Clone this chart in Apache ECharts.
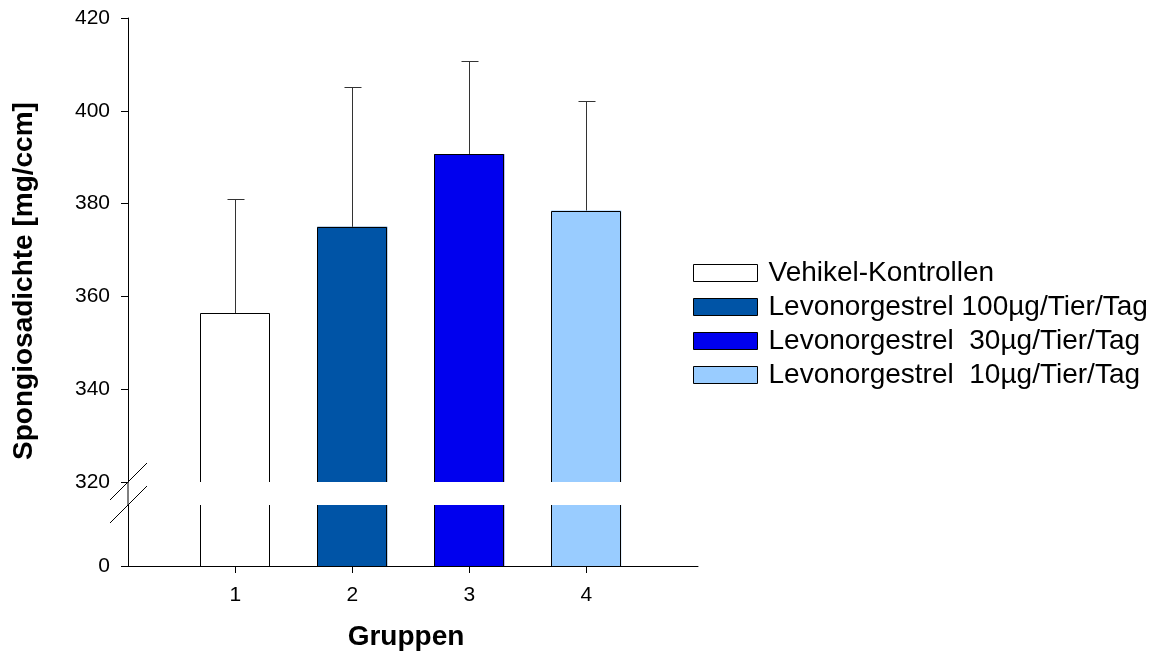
<!DOCTYPE html>
<html>
<head>
<meta charset="utf-8">
<script src="https://cdn.jsdelivr.net/npm/echarts@6/dist/echarts.min.js"></script>
<style>html,body{margin:0;padding:0;background:#fff;}#c{width:1163px;height:652px;}</style>
</head>
<body>
<div id="c"></div>
<script>
// ---- data ----
var groups = [1, 2, 3, 4];
var seriesNames = ['Vehikel-Kontrollen', 'Levonorgestrel 100µg/Tier/Tag', 'Levonorgestrel  30µg/Tier/Tag', 'Levonorgestrel  10µg/Tier/Tag'];
var means = [356.4, 375.0, 390.7, 378.5];
var upperErr = [381.0, 405.1, 410.7, 402.1];
var yTicksUpper = [320, 340, 360, 380, 400, 420];
var yTicksLower = [0];
var xTickLabels = [1, 2, 3, 4];

// ---- layout / style ----
var FONT = 'Liberation Sans, Arial, sans-serif';
var colors = ['#ffffff', '#0054a6', '#0000ee', '#99ccff'];
var GL = 128, GW = 570;
var UP_TOP = 18, UP_H = 464;
var LO_TOP = 505, LO_H = 62;
var UP_BOTTOM = UP_TOP + UP_H;
var UP_MIN = 320, UP_MAX = 420, LO_MIN = 0, LO_MAX = 233;
var HALF_W = 35;

var chart = echarts.init(document.getElementById('c'));
var series = [];
for (var i = 0; i < groups.length; i++) {
  var common = {
    type: 'bar', name: seriesNames[i], barWidth: HALF_W * 2, barGap: '-100%',
    itemStyle: { color: colors[i], borderWidth: 0 }, z: 2,
    clip: true, animation: false, emphasis: { disabled: true }, silent: true
  };
  series.push(Object.assign({}, common, { xAxisIndex: 0, yAxisIndex: 0, data: [[groups[i], means[i]]] }));
  series.push(Object.assign({}, common, { xAxisIndex: 1, yAxisIndex: 1, data: [[groups[i], means[i]]] }));
}
// bar outlines (open at the axis break)
function outline(axisMin, axisMax, closedTop) {
  return function (params, api) {
    var x = api.value(0), v = Math.min(api.value(1), axisMax);
    var pb = api.coord([x, axisMin]);
    var pt = api.coord([x, v]);
    var l = Math.round(pt[0] - HALF_W) + 0.5, r = Math.round(pt[0] + HALF_W) - 0.5;
    var t = Math.round(pt[1]) + 0.5, b = pb[1];
    var st = { stroke: '#000', lineWidth: 1, fill: 'none' };
    if (closedTop) {
      return { type: 'polyline', shape: { points: [[l, b], [l, t], [r, t], [r, b]] }, style: st };
    }
    return { type: 'group', children: [
      { type: 'line', shape: { x1: l, y1: b, x2: l, y2: pt[1] }, style: st },
      { type: 'line', shape: { x1: r, y1: b, x2: r, y2: pt[1] }, style: st }
    ]};
  };
}
var barData = groups.map(function (g, i) { return [g, means[i]]; });
series.push({ type: 'custom', xAxisIndex: 0, yAxisIndex: 0, animation: false, silent: true, z: 5,
  data: barData, renderItem: outline(UP_MIN, UP_MAX, true) });
series.push({ type: 'custom', xAxisIndex: 1, yAxisIndex: 1, animation: false, silent: true, z: 5,
  data: barData, renderItem: outline(LO_MIN, LO_MAX, false) });
// error bars (upper only)
series.push({
  type: 'custom', xAxisIndex: 0, yAxisIndex: 0, animation: false, silent: true, z: 5,
  data: groups.map(function (g, i) { return [g, means[i], upperErr[i]]; }),
  renderItem: function (params, api) {
    var p0 = api.coord([api.value(0), api.value(1)]);
    var p1 = api.coord([api.value(0), api.value(2)]);
    var xc = Math.round(p0[0]) + 0.5, yt = Math.round(p1[1]) + 0.5;
    var st = { stroke: '#333', lineWidth: 1 };
    return { type: 'group', children: [
      { type: 'line', shape: { x1: xc, y1: p0[1], x2: xc, y2: yt }, style: st },
      { type: 'line', shape: { x1: xc - 8, y1: yt, x2: xc + 9, y2: yt }, style: st }
    ]};
  }
});

var axisLine = { show: true, onZero: false, lineStyle: { color: '#000', width: 1 } };
var tickLabel = { fontSize: 21, color: '#000', fontFamily: FONT };
var option = {
  backgroundColor: '#fff',
  animation: false,
  textStyle: { fontFamily: FONT },
  grid: [
    { left: GL, top: UP_TOP, width: GW, height: UP_H },
    { left: GL, top: LO_TOP, width: GW, height: LO_H }
  ],
  xAxis: [
    { type: 'value', gridIndex: 0, min: 0.083, max: 4.955, show: false },
    { type: 'value', gridIndex: 1, min: 0.083, max: 4.955,
      name: 'Gruppen', nameLocation: 'middle', nameGap: 57,
      nameTextStyle: { fontFamily: FONT, fontSize: 28, fontWeight: 'bold', color: '#000', padding: [0, 14, 0, 0] },
      axisLine: axisLine,
      axisTick: { show: true, length: 7, customValues: xTickLabels, lineStyle: { color: '#000' } },
      axisLabel: Object.assign({ customValues: xTickLabels, margin: 19 }, tickLabel),
      splitLine: { show: false } }
  ],
  yAxis: [
    { type: 'value', gridIndex: 0, min: UP_MIN, max: UP_MAX, interval: 20,
      axisLine: axisLine,
      axisTick: { show: true, length: 7, customValues: yTicksUpper, lineStyle: { color: '#000' } },
      axisLabel: Object.assign({ customValues: yTicksUpper, margin: 18 }, tickLabel),
      splitLine: { show: false } },
    { type: 'value', gridIndex: 1, min: LO_MIN, max: LO_MAX,
      axisLine: axisLine,
      axisTick: { show: true, length: 7, customValues: yTicksLower, lineStyle: { color: '#000' } },
      axisLabel: Object.assign({ customValues: yTicksLower, margin: 18 }, tickLabel),
      splitLine: { show: false } }
  ],
  legend: {
    orient: 'vertical', left: 688, top: 254, itemWidth: 64, itemHeight: 17, itemGap: 6,
    icon: 'rect',
    data: seriesNames.map(function (n, i) {
      return { name: n, itemStyle: { color: colors[i], borderColor: '#000', borderWidth: 1 } };
    }),
    textStyle: { fontSize: 28, color: '#000', fontFamily: FONT, padding: [0, 0, 0, 6] },
    selectedMode: false
  },
  graphic: [
    { type: 'line', shape: { x1: GL, y1: UP_BOTTOM, x2: GL, y2: LO_TOP }, style: { stroke: '#000', lineWidth: 1 } },
    { type: 'line', shape: { x1: GL - 18, y1: UP_BOTTOM + 18, x2: GL + 19, y2: UP_BOTTOM - 19 }, style: { stroke: '#000', lineWidth: 1 } },
    { type: 'line', shape: { x1: GL - 18, y1: LO_TOP + 18, x2: GL + 19, y2: LO_TOP - 19 }, style: { stroke: '#000', lineWidth: 1 } },
    { type: 'text', x: 24, y: 281, rotation: Math.PI / 2,
      style: { text: 'Spongiosadichte [mg/ccm]', font: 'bold 28px ' + FONT, fill: '#000', align: 'center', verticalAlign: 'middle' } }
  ],
  series: series
};
chart.setOption(option);
</script>
</body>
</html>
